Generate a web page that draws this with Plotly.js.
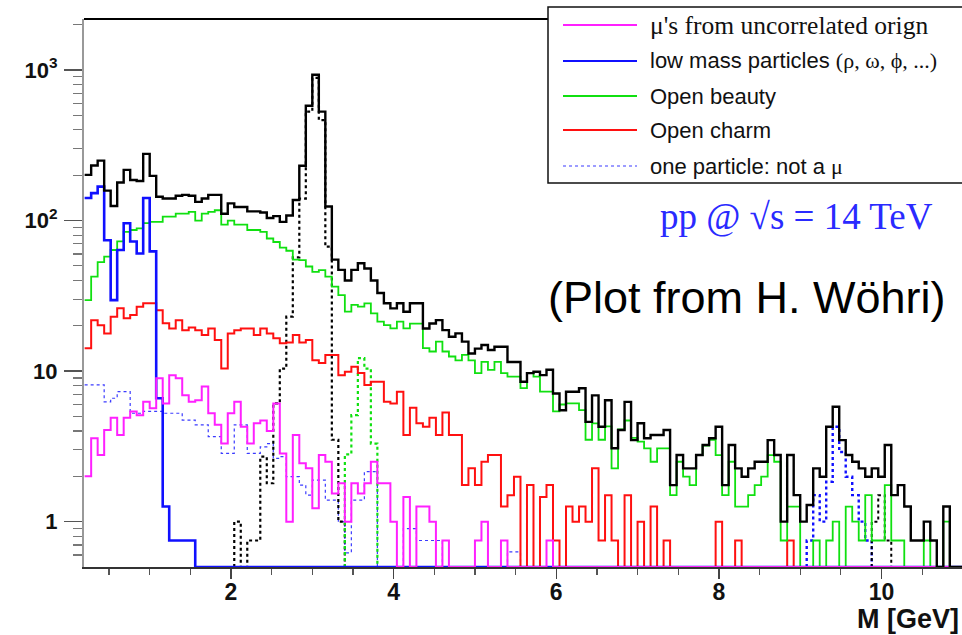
<!DOCTYPE html>
<html>
<head>
<meta charset="utf-8">
<script src="https://cdn.plot.ly/plotly-3.0.1.min.js"></script>
<style>
  html, body { margin: 0; padding: 0; background: #fff; }
  #chart { width: 962px; height: 635px; }
</style>
</head>
<body>
<div id="chart"></div>
<script>
// Dimuon invariant-mass spectrum, pp @ sqrt(s) = 14 TeV.
// Histogram binning: 135 bins of 0.08 GeV from 0.2 GeV to 11.0 GeV.
const massMin = 0.2;
const binWidth = 0.08;
const nBins = 135;

// Counts per bin (bins past the end of a list are empty).
const total = [201,232,250,158,125,179,217,186,183,277,
  198,144,140,140,146,148,146,133,140,148,
  148,111,130,123,123,115,115,113,104,107,
  98,108,137,231,578,929,529,124,55,47,
  40,47,52,48,40,33,28.2,26.1,28.2,24.8,
  28.2,28.2,19.2,20.7,21.8,18.7,16.9,17.8,15.7,13.1,
  14.1,14.9,13.8,14.5,14.5,11.5,11.5,8.5,9.7,9.9,
  9.4,10.2,7.1,5.5,7.3,7.3,7.7,4.6,6.9,4.27,
  6.4,3.07,4.06,6.25,3.48,4.5,3.58,3.76,3.76,4.06,
  1.75,2.77,2.26,2.26,2.77,3.23,3.58,4.27,1.75,3.23,
  2.26,1.99,2.26,2.5,2.5,3.48,2.77,1.0,2.77,1.5,
  1.0,1.29,2.26,1.99,4.27,5.8,3.48,2.77,2.5,2.26,
  1.99,2.26,1.99,3.23,1.5,1.75,1.26,0.75,0.75,1.0,
  0.75,0,1.26,0,0];

const openBeauty = [29.6,42.4,53,57.5,63.7,72.6,84,86.5,88.8,96,
  98,98,106,106,111,111,114,100,111,114,
  117,94,100,94,94,86.5,86.5,84,76,72,
  66,63,55,54.6,49.5,45.6,46.8,42.4,36.4,32,
  24.8,27.5,26.8,28.2,24.2,21.3,20.2,19.2,21.3,19.2,
  20.7,20.7,14.2,13.5,15.7,13.5,12.5,11.8,12.8,11.8,
  9.7,11.5,10.2,11.5,9.7,9.2,9.2,7.7,9.7,9.2,
  7.3,7.3,5.4,6.0,6.1,6.1,5.5,3.5,4.5,3.5,
  4.3,2.26,4.1,4.7,3.6,3.4,3.07,2.5,3.07,3.07,
  1.5,2.5,1.99,1.75,2.77,3.2,3.5,2.77,1.5,2.5,
  1.26,1.26,1.5,1.75,1.99,2.77,2.5,0.75,1.26,1.26,
  0,0,0.75,0,0.75,1.0,0,1.26,1.0,0.75,
  1.5,0.75,0.75,1.75,0.75,0.75,0,0,0,0.75,
  0,0,1.0,0,0];

const openCharm = [14.2,21.8,20.2,17.8,23,26.1,22.4,23.6,26.8,28.2,
  28.2,25.4,20.8,19.2,21.8,18.7,19.5,18.7,17.4,19.2,
  16.1,10.4,17.8,18.7,19.2,19.2,17.4,19.2,17.8,16.5,
  15.3,15.5,17.4,15.5,16.1,11.8,11.3,12.8,12.8,9.4,
  9.9,10.7,9.7,8.1,8.5,8.5,6.25,6.1,7.3,3.76,
  5.7,4.5,4.27,4.9,3.76,5.3,3.76,3.76,1.75,2.26,
  1.75,2.5,2.77,2.77,1.26,1.5,1.99,0,1.75,0,
  1.46,1.75,0.75,0,1.26,1.0,1.26,1.0,2.26,0.75,
  1.5,0.75,0,1.5,0,1.0,0,1.26,0,0.75,
  0,0,0,0,0,0,0,1.0,0,0,
  0.75,0,0,0,0,0,0,0,0.75];

const lowMass = [141,152,168,74,29.6,63.7,96,72.6,60.4,141,
  62.4,6.6,1.26,0.75,0.75,0.75,0.75];

const uncorrelated = [2.0,3.58,2.77,4.06,4.9,3.76,4.9,5.4,5.1,6.25,
  5.66,8.95,6.1,9.4,8.95,6.9,6.25,6.4,7.9,5.25,
  4.4,3.3,5.25,6.25,4.27,3.3,4.5,4.7,4.0,6.1,
  2.84,1.0,3.76,2.44,2.26,1.23,2.77,2.5,1.54,1.8,
  1.0,1.8,1.54,1.8,2.5,1.8,1.8,1.0,0,1.46,
  0,1.26,1.26,1.0,0,0.75,0,0,0,0,
  0.75,1.0,0,0,0.75,0,0,0,0,0,
  0,0.75];

const notAMuon = [8.1,8.1,8.1,6.25,6.6,7.3,7.3,5.25,5.25,5.4,
  5.4,5.4,5.25,5.25,5.25,4.73,4.73,4.4,4.4,3.67,
  3.67,2.84,2.84,4.4,4.4,2.84,2.84,3.14,3.3,2.63,
  2.7,1.99,1.99,1.75,1.5,1.89,1.89,1.39,1.39,1.0,
  0.62,1.39,1.39,2.15,2.15,0,0,0,0,0.9,
  0.9,0.75,0.75,0.75,0.75,0,0,0,0,0,
  0,0,0,0,0,0.63,0.63];

// Resonances: first occupied bin and the counts from there on.
const jpsiFirstBin = 23;
const jpsi = [1.0,0,0.75,0.75,2.7,1.8,6.1,10.4,23,57,140,529,885,465,67,3.5,1.0];
const psiPrimeFirstBin = 40;
const psiPrime = [2.8,5.1,12.2,10.4,3.3];
const upsilonFirstBin = 111;
const upsilon = [0.75,1.5,1.0,1.84,4.27,2.9,1.99,1.5,1.0,0.75];
const upsilon2FirstBin = 121;
const upsilon2 = [1.0,1.5,0.75];

// Axis limits
const yMin = 0.5, yMax = 2180;
const xLo = 0.192, xHi = 10.99;

// Build a step outline from bin counts; empty bins sit on the lower frame.
function stepOutline(firstBin, counts) {
  const xs = [], ys = [];
  const floor = yMin;
  const edge = k => massMin + binWidth * k;
  if (firstBin > 0) { xs.push(edge(firstBin)); ys.push(floor); }
  const last = firstBin === 0 ? nBins : firstBin + counts.length;
  for (let k = firstBin; k < last; k++) {
    const c = counts[k - firstBin];
    xs.push(edge(k));
    ys.push(c && c > 0 ? c : floor);
  }
  xs.push(edge(last));
  ys.push(ys[ys.length - 1]);
  if (firstBin > 0) { xs.push(edge(last)); ys.push(floor); }
  return { xs, ys };
}

function stepTrace(firstBin, counts, color, width, dash) {
  const s = stepOutline(firstBin, counts);
  return {
    type: 'scatter', mode: 'lines', x: s.xs, y: s.ys,
    line: { shape: 'hv', color: color, width: width, dash: dash || 'solid' },
    hoverinfo: 'skip', showlegend: false
  };
}

const GREEN = '#10e010', RED = '#ff1010', MAGENTA = '#ff20ff', BLUE = '#1010ff';

const traces = [
  stepTrace(0, notAMuon, '#3b3bff', 1.2, 'dot'),
  stepTrace(jpsiFirstBin, jpsi, '#000', 2.2, 'dot'),
  stepTrace(psiPrimeFirstBin, psiPrime, GREEN, 2.2, 'dot'),
  stepTrace(upsilonFirstBin, upsilon, BLUE, 2.4, 'dot'),
  stepTrace(upsilon2FirstBin, upsilon2, '#000', 2, 'dot'),
  stepTrace(0, openCharm, RED, 2, 'solid'),
  stepTrace(0, openBeauty, GREEN, 1.8, 'solid'),
  stepTrace(0, lowMass, BLUE, 2.6, 'solid'),
  stepTrace(0, uncorrelated, MAGENTA, 2, 'solid'),
  stepTrace(0, total, '#000', 2.4, 'solid')
];

// Pixel helpers for the decorations drawn around the frame
const W = 962, H = 635, ML = 84, MT = 19, MB = 68;
const PW = W - ML, PH = H - MT - MB;
const px = x => (x - ML) / PW;
const py = y => (H - MB - y) / PH;

const SANS = 'Liberation Sans, Arial, sans-serif';
const SERIF = 'Liberation Serif, Times New Roman, serif';

const legendRows = [
  { color: MAGENTA, dash: 'solid', width: 2, y: 25,
    text: 'μ\'s from uncorrelated orign', font: SERIF, size: 25.5 },
  { color: BLUE, dash: 'solid', width: 2.2, y: 61,
    text: 'low mass particles <span style="font-family:Liberation Serif, serif">(ρ, ω, ϕ, ...)</span>', font: SANS, size: 22 },
  { color: GREEN, dash: 'solid', width: 1.8, y: 96,
    text: 'Open beauty', font: SANS, size: 22 },
  { color: RED, dash: 'solid', width: 2, y: 130,
    text: 'Open charm', font: SANS, size: 22 },
  { color: '#3b3bff', dash: 'dot', width: 1.2, y: 166,
    text: 'one particle: not a <span style="font-family:Liberation Serif, serif">μ</span>', font: SANS, size: 22 }
];

const shapes = [
  // upper frame edge
  { type: 'line', xref: 'paper', yref: 'paper', x0: 0, x1: px(548), y0: 1, y1: 1,
    line: { color: '#000', width: 2 }, layer: 'above' },
  // legend box
  { type: 'rect', xref: 'paper', yref: 'paper', x0: px(548), x1: px(975), y0: py(183), y1: py(7),
    fillcolor: '#fff', line: { color: '#111', width: 1.5 }, layer: 'above' }
];
const annotations = [];
legendRows.forEach(r => {
  shapes.push({ type: 'line', xref: 'paper', yref: 'paper', x0: px(563), x1: px(637), y0: py(r.y), y1: py(r.y),
    line: { color: r.color, width: r.width, dash: r.dash }, layer: 'above' });
  annotations.push({ xref: 'paper', yref: 'paper', x: px(648), y: py(r.y), xanchor: 'left', yanchor: 'middle',
    text: r.text, showarrow: false, font: { family: r.font, size: r.size, color: '#111' } });
});

annotations.push(
  { xref: 'paper', yref: 'paper', x: px(658), y: py(217), xanchor: 'left', yanchor: 'middle', showarrow: false,
    text: 'pp @ √s = 14 TeV', font: { family: SERIF, size: 37, color: '#2a2aff' } },
  { xref: 'paper', yref: 'paper', x: px(546), y: py(297), xanchor: 'left', yanchor: 'middle', showarrow: false,
    text: '(Plot from H. Wöhri)', font: { family: SANS, size: 45, color: '#000' } },
  { xref: 'paper', yref: 'paper', x: px(961), y: py(619), xanchor: 'right', yanchor: 'middle', showarrow: false,
    text: 'M [GeV]', font: { family: SANS, size: 27, color: '#111', weight: 'bold' } }
);

const minorY = [];
[0.1, 1, 10, 100, 1000].forEach(d => {
  for (let m = 2; m <= 9; m++) { const v = m * d; if (v > yMin && v < yMax) minorY.push(v); }
});

const layout = {
  width: W, height: H,
  margin: { l: ML, r: 0, t: MT, b: MB, pad: 0 },
  paper_bgcolor: '#fff', plot_bgcolor: '#fff',
  showlegend: false,
  xaxis: {
    range: [xLo, xHi], showgrid: false, zeroline: false,
    showline: true, linecolor: '#333', linewidth: 1.5,
    ticks: 'outside', ticklen: 10, tickwidth: 1.5, tickcolor: '#444',
    tick0: 0, dtick: 2,
    ticklabelstandoff: -6,
    tickfont: { family: SANS, size: 23, color: '#111', weight: 'bold' },
    minor: { tickmode: 'linear', tick0: 0, dtick: 0.5, ticks: 'outside', ticklen: 6, tickcolor: '#555', tickwidth: 1.2, showgrid: false }
  },
  yaxis: {
    type: 'log', range: [Math.log10(yMin), Math.log10(yMax)],
    showgrid: false, zeroline: false,
    showline: true, linecolor: '#999', linewidth: 2,
    tickmode: 'array', tickvals: [1, 10, 100, 1000], ticktext: ['1', '10', '10<sup>2</sup>', '10<sup>3</sup>'],
    ticks: 'outside', ticklen: 18, tickwidth: 1.5, tickcolor: '#555',
    ticklabelstandoff: 2,
    tickfont: { family: SANS, size: 22, color: '#111', weight: 'bold' },
    minor: { tickmode: 'array', tickvals: minorY, ticks: 'outside', ticklen: 9, tickcolor: '#777', tickwidth: 1.2, showgrid: false }
  },
  shapes: shapes,
  annotations: annotations
};

Plotly.newPlot('chart', traces, layout, { staticPlot: true, displayModeBar: false });
</script>
</body>
</html>
